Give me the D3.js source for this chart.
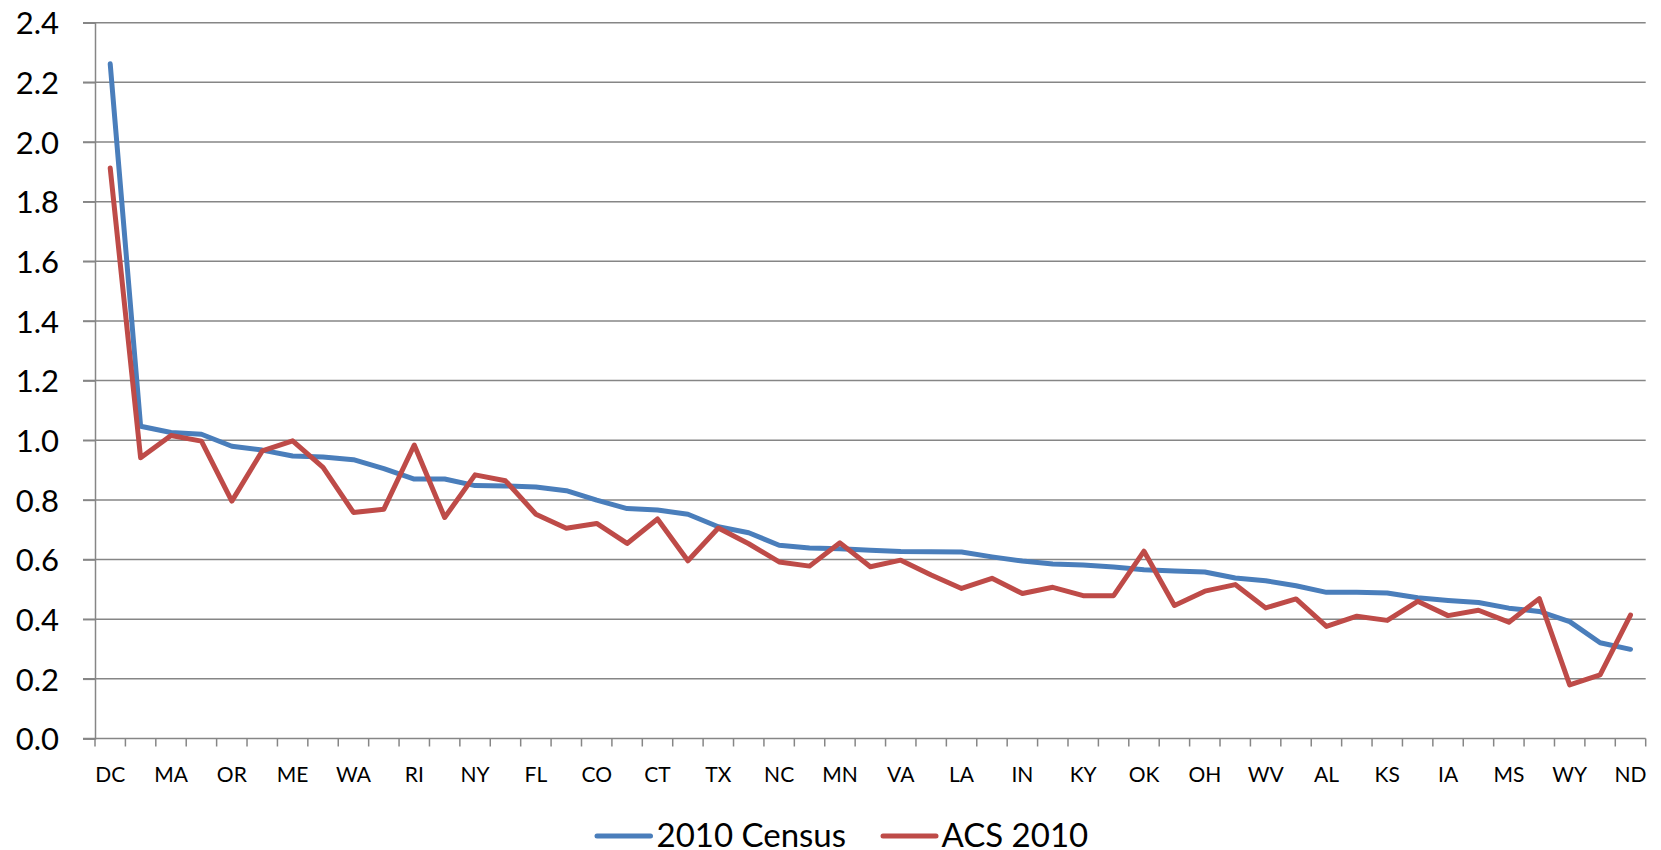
<!DOCTYPE html>
<html>
<head>
<meta charset="utf-8">
<script src="https://cdn.jsdelivr.net/npm/d3@7"></script>
<style>
  html, body { margin: 0; padding: 0; background: #fff; }
  svg { display: block; }
  text { font-family: Lato, "Open Sans", sans-serif; fill: #000; }
</style>
</head>
<body>
<svg id="chart" width="1661" height="850"></svg>
<script>
// ---- data ----
const categories = ["DC","NV","MA","CA","OR","VT","ME","NH","WA","DE","RI","NJ","NY","AZ","FL","MD","CO","IL","CT","NM","TX","HI","NC","GA","MN","MI","VA","PA","LA","WI","IN","MO","KY","SC","OK","TN","OH","AR","WV","UT","AL","ID","KS","NE","IA","MT","MS","SD","WY","AK","ND"];
const census2010 = [2.262,1.047,1.026,1.020,0.980,0.967,0.947,0.944,0.935,0.905,0.870,0.870,0.848,0.847,0.843,0.831,0.799,0.771,0.766,0.752,0.710,0.690,0.648,0.639,0.636,0.631,0.627,0.626,0.625,0.609,0.595,0.585,0.582,0.575,0.566,0.562,0.558,0.538,0.529,0.512,0.490,0.490,0.488,0.472,0.463,0.456,0.437,0.426,0.392,0.321,0.299];
const acs2010 = [1.913,0.941,1.016,0.997,0.796,0.964,0.998,0.909,0.758,0.769,0.984,0.741,0.884,0.864,0.752,0.705,0.721,0.654,0.736,0.596,0.706,0.653,0.592,0.578,0.656,0.576,0.598,0.548,0.503,0.537,0.486,0.507,0.479,0.479,0.628,0.446,0.494,0.516,0.438,0.468,0.376,0.410,0.396,0.460,0.412,0.430,0.390,0.469,0.180,0.213,0.414];
const yTicks = [0,0.2,0.4,0.6,0.8,1.0,1.2,1.4,1.6,1.8,2.0,2.2,2.4];
const seriesNames = ["2010 Census","ACS 2010"];
const seriesColors = ["#4A7EBB","#BE4B48"];

// ---- layout ----
const svg = d3.select("#chart");
const plotLeft = 95, plotRight = 1645.7, plotTop = 22.7, plotBottom = 738.5;
const x = d3.scaleBand().domain(categories).range([plotLeft, plotRight]).paddingInner(0).paddingOuter(0);
const y = d3.scaleLinear().domain([0, 2.4]).range([plotBottom, plotTop]);
const grey = "#868686";

// gridlines
svg.append("g").selectAll("line").data(yTicks.filter(d => d > 0)).join("line")
  .attr("x1", plotLeft - 12).attr("x2", plotRight)
  .attr("y1", d => y(d)).attr("y2", d => y(d))
  .attr("stroke", grey).attr("stroke-width", 1.5);

// y axis
const yAxis = d3.axisLeft(y).tickValues(yTicks).tickFormat(d3.format(".1f")).tickSize(12).tickPadding(24);
const gy = svg.append("g").attr("transform", `translate(${plotLeft},0)`).call(yAxis);
gy.select(".domain").attr("stroke", grey).attr("stroke-width", 1.5);
gy.selectAll(".tick line").attr("stroke", grey).attr("stroke-width", 1.5);
gy.selectAll(".tick text").attr("font-size", 31).attr("font-family", "Lato, sans-serif").attr("fill", "#000").attr("dy", "0.36em");

// x axis
const boundaries = d3.range(categories.length + 1).map(i => plotLeft + i * x.bandwidth());
const gx = svg.append("g");
gx.append("line").attr("x1", plotLeft - 12).attr("x2", plotRight).attr("y1", plotBottom).attr("y2", plotBottom)
  .attr("stroke", grey).attr("stroke-width", 1.5);
gx.selectAll("line.tk").data(boundaries).join("line").attr("class", "tk")
  .attr("x1", d => d).attr("x2", d => d).attr("y1", plotBottom).attr("y2", plotBottom + 8)
  .attr("stroke", grey).attr("stroke-width", 1.5);
gx.selectAll("text").data(categories.filter((d, i) => i % 2 === 0)).join("text")
  .attr("x", d => x(d) + x.bandwidth() / 2).attr("y", 781.5)
  .attr("text-anchor", "middle").attr("font-size", 21).text(d => d);

// lines
const line = d3.line().x((d, i) => x(categories[i]) + x.bandwidth() / 2).y(d => y(d));
[census2010, acs2010].forEach((s, k) => {
  svg.append("path").datum(s).attr("d", line)
    .attr("fill", "none").attr("stroke", seriesColors[k]).attr("stroke-width", 5)
    .attr("stroke-linejoin", "round").attr("stroke-linecap", "round");
});

// legend
const legendPos = [{lx: 597, lx2: 650.5, tx: 656.5}, {lx: 883, lx2: 936, tx: 941.5}];
seriesNames.forEach((n, k) => {
  svg.append("line").attr("x1", legendPos[k].lx).attr("x2", legendPos[k].lx2)
    .attr("y1", 836).attr("y2", 836).attr("stroke", seriesColors[k])
    .attr("stroke-width", 5).attr("stroke-linecap", "round");
  svg.append("text").attr("x", legendPos[k].tx).attr("y", 846.5).attr("font-size", 33).text(n);
});
</script>
</body>
</html>
